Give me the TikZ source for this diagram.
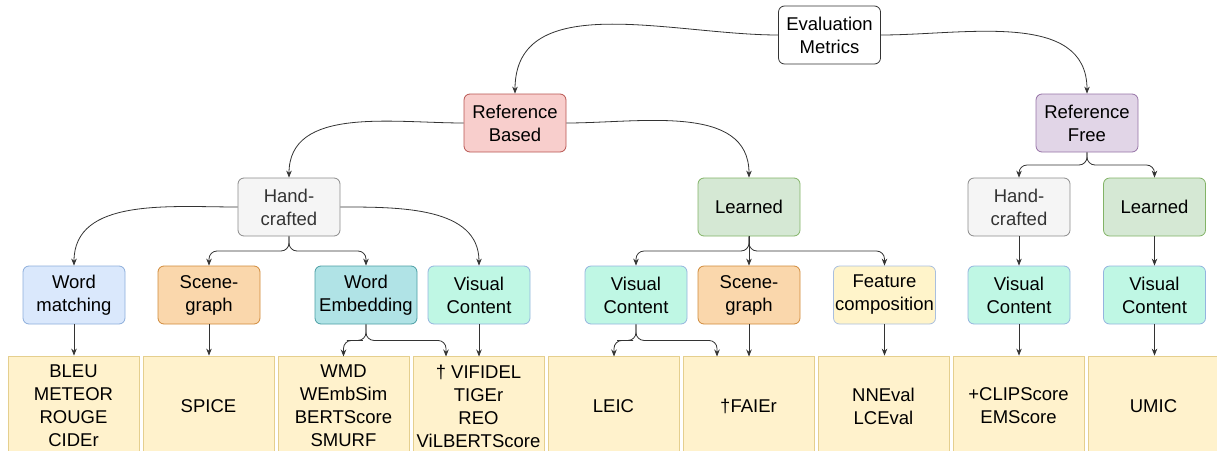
\documentclass[tikz,border=0pt]{standalone}
\usepackage{fontspec}
\setmainfont{Liberation Sans}
\usetikzlibrary{arrows.meta,calc}
\definecolor{edgeC}{HTML}{333333}
\definecolor{rbF}{HTML}{F8CECC}\definecolor{rbD}{HTML}{B85450}
\definecolor{rfF}{HTML}{E1D5E7}\definecolor{rfD}{HTML}{9673A6}
\definecolor{hcF}{HTML}{F5F5F5}\definecolor{hcD}{HTML}{8A8A8A}\definecolor{hcT}{HTML}{333333}
\definecolor{lnF}{HTML}{D5E8D4}\definecolor{lnD}{HTML}{82B366}
\definecolor{wmF}{HTML}{DAE8FC}\definecolor{wmD}{HTML}{8DAEDB}
\definecolor{sgF}{HTML}{FAD7AC}\definecolor{sgD}{HTML}{D08A3A}
\definecolor{weF}{HTML}{B0E3E6}\definecolor{weD}{HTML}{4A9EA4}
\definecolor{vcF}{HTML}{BFF7E4}\definecolor{vcD}{HTML}{94B4DF}
\definecolor{fcF}{HTML}{FFF4CA}\definecolor{fcD}{HTML}{A9BFDF}
\definecolor{lfF}{HTML}{FFF2CC}\definecolor{lfD}{HTML}{E5CF8E}
\tikzset{
  box/.style={rectangle, rounded corners=6pt, minimum width=102pt, minimum height=58pt,
    inner sep=0pt, align=center, line width=0.8pt},
  root/.style={box, fill=white, draw=edgeC},
  rb/.style={box, fill=rbF, draw=rbD},
  rf/.style={box, fill=rfF, draw=rfD},
  hc/.style={box, fill=hcF, draw=hcD, text=hcT},
  ln/.style={box, fill=lnF, draw=lnD},
  wm/.style={box, fill=wmF, draw=wmD},
  sg/.style={box, fill=sgF, draw=sgD},
  we/.style={box, fill=weF, draw=weD},
  vc/.style={box, fill=vcF, draw=vcD},
  fc/.style={box, fill=fcF, draw=fcD},
  leaf/.style={rectangle, minimum width=131pt, minimum height=100pt, inner sep=0pt,
    align=center, fill=lfF, draw=lfD, line width=0.8pt},
  edge/.style={draw=edgeC, line width=0.8pt, -{Stealth[length=7pt,width=5.5pt]}},
  branch/.style={edge, rounded corners=8pt}
}
\begin{document}
\begin{tikzpicture}[x=1pt,y=-1pt,font=\fontsize{18.5}{23}\selectfont]
\useasboundingbox (0,0) rectangle (1217,450);
\clip (0,0) rectangle (1217,450);
% level 0-1
\node[root] (EM) at (829.5,35) {Evaluation\\Metrics};
\node[rb] (RB) at (515,123) {Reference\\Based};
\node[rf] (RF) at (1087,123) {Reference\\Free};
% level 2
\node[hc] (HC1) at (289,207) {Hand-\\crafted};
\node[ln] (L1) at (749,207) {Learned};
\node[hc] (HC2) at (1019,207) {Hand-\\crafted};
\node[ln] (L2) at (1154.5,207) {Learned};
% level 3
\node[wm] (WM) at (74,295) {Word\\matching};
\node[sg] (SG1) at (209,295) {Scene-\\graph};
\node[we] (WE) at (366,295) {Word\\Embedding};
\node[vc] (VC1) at (479,295) {Visual\\Content};
\node[vc] (VC2) at (636,295) {Visual\\Content};
\node[sg] (SG2) at (749,295) {Scene-\\graph};
\node[fc] (FC) at (884.5,295) {Feature\\composition};
\node[vc] (VC3) at (1019,295) {Visual\\Content};
\node[vc] (VC4) at (1154.5,295) {Visual\\Content};
% leaves
\node[leaf] (B1) at (73.5,406) {BLEU\\METEOR\\ROUGE\\CIDEr};
\node[leaf] (B2) at (208.5,406) {SPICE};
\node[leaf] (B3) at (343.5,406) {WMD\\WEmbSim\\BERTScore\\SMURF};
\node[leaf] (B4) at (478.5,406) {† VIFIDEL\\TIGEr\\REO\\ViLBERTScore};
\node[leaf] (B5) at (613.5,406) {LEIC};
\node[leaf] (B6) at (748.5,406) {†FAIEr};
\node[leaf] (B7) at (883.5,406) {NNEval\\LCEval};
\node[leaf] (B8) at (1018.5,406) {+CLIPScore\\EMScore};
\node[leaf] (B9) at (1153.5,406) {UMIC};
% targets on leaves
\coordinate (B3a) at (343.5,356.5);
\coordinate (B4a) at (446,356.5);
\coordinate (B4b) at (479,356.5);
\coordinate (B5a) at (614,356.5);
\coordinate (B6a) at (717,356.5);
\coordinate (B6b) at (749,356.5);
% edges
\draw[edge] (EM.west) to[out=180,in=90] (RB.north);
\draw[edge] (EM.east) to[out=0,in=90] (RF.north);
\draw[edge] (RB.west) to[out=180,in=90] (HC1.north);
\draw[edge] (RB.east) to[out=0,in=90] (L1.north);
\draw[branch] (RF.south) |- ($(RF.south)!.5!(HC2.north)$) -| (HC2.north);
\draw[branch] (RF.south) |- ($(RF.south)!.5!(L2.north)$) -| (L2.north);
\draw[edge] (HC1.west) to[out=180,in=90] (WM.north);
\draw[edge] (HC1.east) to[out=0,in=90] (VC1.north);
\draw[branch] (HC1.south) |- ($(HC1.south)!.5!(SG1.north)$) -| (SG1.north);
\draw[branch] (HC1.south) |- ($(HC1.south)!.5!(WE.north)$) -| (WE.north);
\draw[branch] (L1.south) |- ($(L1.south)!.5!(VC2.north)$) -| (VC2.north);
\draw[edge] (L1.south) -- (SG2.north);
\draw[branch] (L1.south) |- ($(L1.south)!.5!(FC.north)$) -| (FC.north);
\draw[edge] (HC2.south) -- (VC3.north);
\draw[edge] (L2.south) -- (VC4.north);
\draw[edge] (WM.south) -- (WM.south |- B1.north);
\draw[edge] (SG1.south) -- (SG1.south |- B2.north);
\draw[branch] (WE.south) |- ($(WE.south)!.5!(B3a)$) -| (B3a);
\draw[branch] (WE.south) |- ($(WE.south)!.5!(B4a)$) -| (B4a);
\draw[edge] (VC1.south) -- (B4b);
\draw[branch] (VC2.south) |- ($(VC2.south)!.5!(B5a)$) -| (B5a);
\draw[branch] (VC2.south) |- ($(VC2.south)!.5!(B6a)$) -| (B6a);
\draw[edge] (SG2.south) -- (B6b);
\draw[edge] (FC.south) -- (FC.south |- B7.north);
\draw[edge] (VC3.south) -- (VC3.south |- B8.north);
\draw[edge] (VC4.south) -- (VC4.south |- B9.north);
\end{tikzpicture}
\end{document}
